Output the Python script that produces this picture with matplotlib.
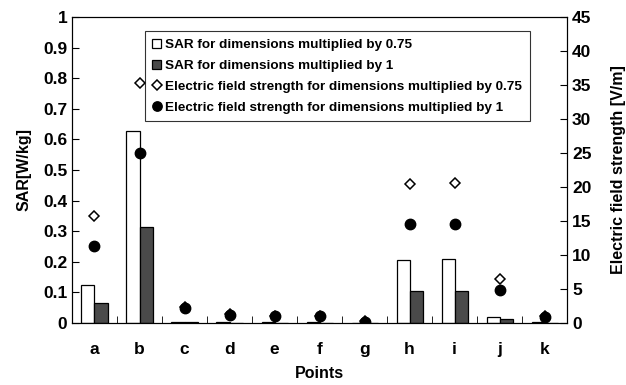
import matplotlib.pyplot as plt
import numpy as np

plt.rcParams['font.family'] = ['Liberation Sans', 'DejaVu Sans']

points = ['a', 'b', 'c', 'd', 'e', 'f', 'g', 'h', 'i', 'j', 'k']
sar_075 = [0.124, 0.627, 0.003, 0.002, 0.002, 0.002, 0.001, 0.206, 0.209, 0.020, 0.002]
sar_1 = [0.064, 0.315, 0.002, 0.001, 0.001, 0.001, 0.0005, 0.106, 0.106, 0.012, 0.001]
e_075 = [15.7, 35.3, 2.3, 1.3, 1.1, 1.1, 0.3, 20.4, 20.6, 6.4, 1.0]
e_1 = [11.3, 25.0, 2.2, 1.2, 1.0, 1.0, 0.2, 14.5, 14.5, 4.8, 0.9]

fig = plt.figure(figsize=(6.26, 3.85), dpi=100)
ax = fig.add_axes([0.115, 0.161, 0.791, 0.795])
ax2 = ax.twinx()

x = np.arange(len(points))
w = 0.29
b1 = ax.bar(x - w / 2, sar_075, w, color='white', edgecolor='black', linewidth=0.9,
            label='SAR for dimensions multiplied by 0.75')
b2 = ax.bar(x + w / 2, sar_1, w, color='#4a4a4a', edgecolor='black', linewidth=0.9,
            label='SAR for dimensions multiplied by 1')
m1, = ax2.plot(x, e_075, linestyle='none', marker='D', markersize=5.5, markerfacecolor='white',
               markeredgecolor='black', markeredgewidth=1.1,
               label='Electric field strength for dimensions multiplied by 0.75')
m2, = ax2.plot(x, e_1, linestyle='none', marker='o', markersize=7.5, color='black',
               label='Electric field strength for dimensions multiplied by 1')

ax.set_xlim(-0.5, len(points) - 0.5)
ax.set_ylim(0, 1)
ax2.set_ylim(0, 45)
ax.set_yticks(np.arange(0, 1.01, 0.1))
ax.set_yticklabels(['0'] + ['%.1f' % v for v in np.arange(0.1, 0.95, 0.1)] + ['1'])
ax2.set_yticks(np.arange(0, 46, 5))

ax.set_xticks(x)
ax.set_xticklabels(points)
ax.set_xticks(np.arange(0.5, len(points) - 1, 1), minor=True)
ax.tick_params(axis='x', which='major', length=0, pad=14)
ax.tick_params(axis='x', which='minor', direction='in', length=5)
ax.tick_params(axis='y', direction='in', length=5)
ax2.tick_params(axis='y', direction='in', length=5)

for lab in ax.get_xticklabels() + ax.get_yticklabels() + ax2.get_yticklabels():
    lab.set_fontsize(12.5)
    lab.set_fontweight('bold')

ax.set_xlabel('Points', fontsize=11.5, fontweight='bold', labelpad=6)
ax.set_ylabel('SAR[W/kg]', fontsize=11.5, fontweight='bold', labelpad=8)
ax2.set_ylabel('Electric field strength [V/m]', fontsize=11.5, fontweight='bold', labelpad=14)

leg = ax2.legend([b1, b2, m1, m2], [b1.get_label(), b2.get_label(), m1.get_label(), m2.get_label()],
                 loc='upper left', bbox_to_anchor=(0.133, 0.975), fontsize=9.7, frameon=True,
                 fancybox=False, edgecolor='black', handlelength=0.7, handletextpad=0.3,
                 borderpad=0.55, labelspacing=0.62, markerscale=0.9)
leg.get_frame().set_linewidth(0.8)
for t in leg.get_texts():
    t.set_fontweight('bold')

fig.savefig('out.png', dpi=100)
